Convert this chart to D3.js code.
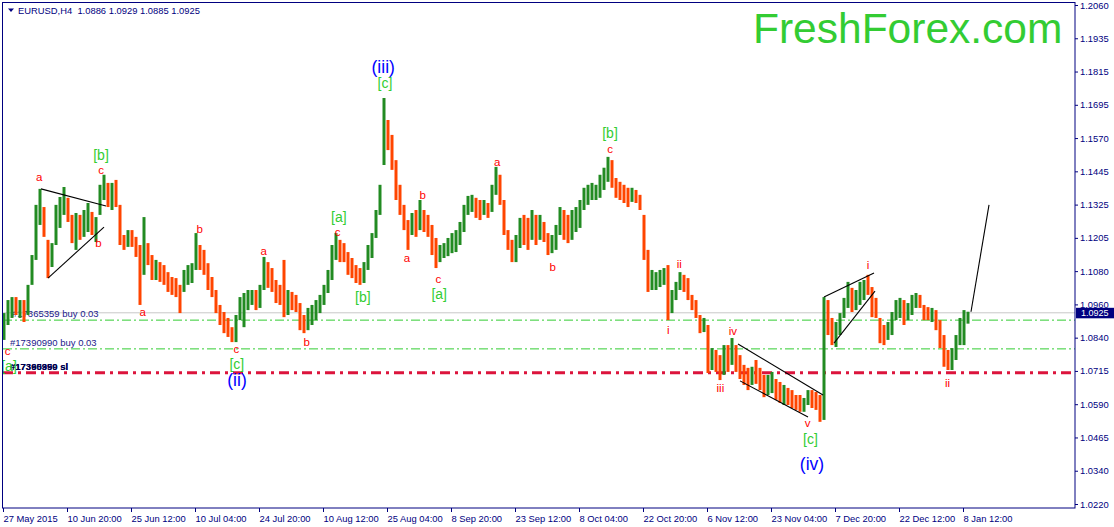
<!DOCTYPE html>
<html>
<head>
<meta charset="utf-8">
<script src="https://cdn.jsdelivr.net/npm/d3@7"></script>
<style>
  body { margin: 0; background: #fff; }
  text { font-family: "Liberation Sans", Arial, sans-serif; }
</style>
</head>
<body>
<div id="chart"></div>
<script>
// ---- data (EURUSD H4, one sample per ~4 bars) ----
const hi = [
  1.0924,1.0972,1.0983,1.0983,1.0972,1.0972,1.1028,1.1138,1.1323,1.1382,
  1.1315,1.1194,1.1182,1.1323,1.1352,1.1389,1.1349,1.1286,1.1293,1.1286,
  1.1304,1.1330,1.1297,1.1278,1.1397,1.1434,1.1404,1.1404,1.1415,1.1323,
  1.1212,1.1230,1.1230,1.1205,1.1175,1.1278,1.1182,1.1138,1.1120,1.1112,
  1.1101,1.1075,1.1057,1.1053,1.1028,1.1083,1.1101,1.1108,1.1219,1.1175,
  1.1157,1.1108,1.1057,1.1009,1.0954,1.0928,1.0906,1.0872,1.0917,1.0983,
  1.0998,1.1009,1.1009,1.1009,1.1028,1.1131,1.1112,1.1090,1.1046,1.1028,
  1.1120,1.1009,1.1002,1.0991,1.0961,1.0917,1.0943,1.0954,1.0972,1.0991,
  1.1028,1.1083,1.1175,1.1219,1.1194,1.1182,1.1149,1.1127,1.1101,1.1090,
  1.1112,1.1175,1.1219,1.1304,1.1397,1.1717,1.1636,1.1581,1.1488,1.1397,
  1.1323,1.1267,1.1293,1.1304,1.1341,1.1304,1.1286,1.1249,1.1201,1.1175,
  1.1182,1.1201,1.1219,1.1230,1.1260,1.1323,1.1356,1.1360,1.1349,1.1341,
  1.1341,1.1330,1.1397,1.1463,1.1434,1.1341,1.1230,1.1194,1.1212,1.1275,
  1.1286,1.1275,1.1304,1.1286,1.1286,1.1260,1.1219,1.1212,1.1249,1.1315,
  1.1304,1.1286,1.1304,1.1315,1.1341,1.1386,1.1397,1.1404,1.1397,1.1434,
  1.1460,1.1500,1.1488,1.1422,1.1408,1.1397,1.1386,1.1386,1.1378,1.1360,
  1.1286,1.1157,1.1083,1.1075,1.1083,1.1090,1.1101,1.1009,1.1039,1.1075,
  1.1065,1.1053,1.0991,1.0972,1.0917,1.0906,1.0880,1.0795,1.0788,1.0769,
  1.0806,1.0806,1.0832,1.0806,1.0769,1.0733,1.0722,1.0726,1.0751,1.0722,
  1.0696,1.0696,1.0707,1.0681,1.0670,1.0659,1.0648,1.0640,1.0622,1.0622,
  1.0611,1.0640,1.0640,1.0633,1.0622,1.0983,1.0972,1.0906,1.0891,1.0924,
  1.0980,1.1039,1.1017,1.1009,1.1039,1.1046,1.1065,1.1020,1.0980,1.0906,
  1.0880,1.0891,1.0928,1.0972,1.0980,1.0972,1.0961,1.0991,1.0998,1.0991,
  1.0954,1.0946,1.0943,1.0935,1.0898,1.0843,1.0788,1.0795,1.0843,1.0906,
  1.0935,1.0929
];
const lo = [
  1.0825,1.0880,1.0906,1.0917,1.0906,1.0891,1.0917,1.1028,1.1120,1.1249,
  1.1205,1.1053,1.1094,1.1175,1.1238,1.1286,1.1260,1.1182,1.1157,1.1194,
  1.1205,1.1223,1.1212,1.1186,1.1286,1.1341,1.1315,1.1304,1.1315,1.1175,
  1.1157,1.1168,1.1168,1.1131,1.0954,1.1065,1.1101,1.1046,1.1046,1.1039,
  1.1028,1.1002,1.0991,1.0983,1.0924,1.1002,1.1028,1.1035,1.1083,1.1083,
  1.1065,1.1009,1.0983,1.0924,1.0880,1.0850,1.0836,1.0817,1.0817,1.0898,
  1.0872,1.0935,1.0954,1.0935,1.0943,1.1009,1.1017,1.1002,1.0961,1.0954,
  1.0909,1.0917,1.0935,1.0928,1.0861,1.0850,1.0861,1.0880,1.0898,1.0924,
  1.0954,1.0998,1.1046,1.1120,1.1112,1.1112,1.1065,1.1053,1.1035,1.1028,
  1.1035,1.1083,1.1127,1.1201,1.1286,1.1470,1.1525,1.1452,1.1341,1.1286,
  1.1230,1.1157,1.1212,1.1205,1.1230,1.1223,1.1205,1.1138,1.1090,1.1112,
  1.1127,1.1134,1.1145,1.1149,1.1175,1.1223,1.1286,1.1297,1.1275,1.1267,
  1.1286,1.1275,1.1297,1.1360,1.1323,1.1212,1.1157,1.1112,1.1112,1.1164,
  1.1175,1.1157,1.1194,1.1175,1.1194,1.1186,1.1138,1.1145,1.1157,1.1212,
  1.1194,1.1182,1.1194,1.1223,1.1238,1.1304,1.1323,1.1341,1.1341,1.1349,
  1.1378,1.1408,1.1386,1.1349,1.1341,1.1330,1.1315,1.1334,1.1330,1.1304,
  1.1120,1.1002,1.1009,1.1009,1.1020,1.1028,1.0898,1.0924,1.0972,1.1009,
  1.1002,1.0972,1.0935,1.0906,1.0850,1.0854,1.0703,1.0714,1.0707,1.0677,
  1.0696,1.0707,1.0733,1.0707,1.0681,1.0659,1.0640,1.0659,1.0663,1.0640,
  1.0614,1.0622,1.0629,1.0604,1.0593,1.0585,1.0585,1.0574,1.0567,1.0560,
  1.0560,1.0585,1.0574,1.0567,1.0523,1.0530,1.0843,1.0806,1.0799,1.0843,
  1.0906,1.0943,1.0928,1.0935,1.0954,1.0972,1.0991,1.0909,1.0906,1.0813,
  1.0806,1.0825,1.0843,1.0898,1.0906,1.0880,1.0898,1.0917,1.0943,1.0943,
  1.0898,1.0898,1.0891,1.0861,1.0795,1.0726,1.0714,1.0714,1.0751,1.0806,
  1.0806,1.0885
];
const cl = [
  1.0861,1.0935,1.0954,1.0935,1.0943,1.0917,1.1009,1.1120,1.1286,1.1304,
  1.1230,1.1101,1.1164,1.1297,1.1323,1.1341,1.1286,1.1212,1.1249,1.1223,
  1.1260,1.1286,1.1238,1.1260,1.1378,1.1397,1.1341,1.1360,1.1341,1.1194,
  1.1175,1.1201,1.1194,1.1157,1.1009,1.1157,1.1127,1.1083,1.1090,1.1065,
  1.1053,1.1028,1.1017,1.1002,1.0991,1.1053,1.1065,1.1083,1.1175,1.1120,
  1.1090,1.1046,1.1009,1.0954,1.0906,1.0880,1.0854,1.0843,1.0880,1.0954,
  1.0972,1.0980,1.0991,1.0972,1.1009,1.1083,1.1065,1.1039,1.1009,1.0991,
  1.0972,1.0972,1.0965,1.0954,1.0898,1.0880,1.0917,1.0928,1.0954,1.0972,
  1.1009,1.1046,1.1138,1.1175,1.1157,1.1138,1.1112,1.1083,1.1065,1.1053,
  1.1083,1.1157,1.1194,1.1267,1.1378,1.1599,1.1562,1.1488,1.1397,1.1323,
  1.1260,1.1230,1.1267,1.1249,1.1304,1.1260,1.1238,1.1175,1.1138,1.1149,
  1.1157,1.1175,1.1194,1.1194,1.1230,1.1304,1.1323,1.1330,1.1304,1.1297,
  1.1323,1.1304,1.1360,1.1434,1.1360,1.1238,1.1194,1.1138,1.1175,1.1230,
  1.1223,1.1201,1.1249,1.1212,1.1249,1.1223,1.1175,1.1182,1.1212,1.1286,
  1.1249,1.1230,1.1267,1.1286,1.1304,1.1360,1.1371,1.1378,1.1378,1.1408,
  1.1434,1.1470,1.1415,1.1378,1.1371,1.1360,1.1341,1.1360,1.1349,1.1323,
  1.1138,1.1046,1.1046,1.1046,1.1057,1.1075,1.0935,1.0991,1.1017,1.1053,
  1.1039,1.0991,1.0965,1.0928,1.0880,1.0887,1.0733,1.0769,1.0726,1.0714,
  1.0769,1.0751,1.0806,1.0751,1.0714,1.0681,1.0677,1.0714,1.0696,1.0670,
  1.0648,1.0659,1.0677,1.0640,1.0622,1.0622,1.0611,1.0604,1.0596,1.0585,
  1.0589,1.0622,1.0604,1.0596,1.0549,1.0954,1.0906,1.0843,1.0861,1.0891,
  1.0954,1.1002,1.0972,1.0980,1.1009,1.1028,1.1017,1.0972,1.0943,1.0861,
  1.0843,1.0861,1.0898,1.0943,1.0954,1.0928,1.0935,1.0972,1.0980,1.0972,
  1.0935,1.0928,1.0928,1.0906,1.0843,1.0788,1.0751,1.0769,1.0825,1.0880,
  1.0906,1.0925
];

const dateTicks = [0,16,32,48,64,80,96,112,128,144,160,176,192,208,224,240];
const dateLabels = ["27 May 2015","10 Jun 20:00","25 Jun 12:00","10 Jul 04:00","24 Jul 20:00",
  "10 Aug 12:00","25 Aug 04:00","8 Sep 20:00","23 Sep 12:00","8 Oct 04:00","22 Oct 20:00",
  "6 Nov 12:00","23 Nov 04:00","7 Dec 20:00","22 Dec 12:00","8 Jan 12:00"];
const priceLabels = ["1.2060","1.1935","1.1815","1.1695","1.1570","1.1445","1.1325","1.1205",
  "1.1080","1.0960","1.0840","1.0715","1.0590","1.0465","1.0340","1.0220"];

const bid = 1.0925;
const buyLevels = [1.0898, 1.0792];
const buyTexts = ["#17365359 buy 0.03", "#17390990 buy 0.03"];
const slLevel = 1.0704;
const slTexts = ["#17365359 sl", "#17390990 sl"];

// wave marks: [sample index, price, text]
const minorWaves = [
  [0.9,1.0785,"c"],[8.8,1.1426,"a"],[24.25,1.1452,"c"],[23.6,1.1181,"b"],[34.7,1.0927,"a"],
  [48.9,1.1234,"b"],[58.1,1.0792,"c"],[64.9,1.1153,"a"],[75.7,1.0816,"b"],[83.4,1.1224,"c"],
  [100.75,1.1126,"a"],[104.7,1.1360,"b"],[108.6,1.1050,"c"],[123.3,1.1480,"a"],[137.2,1.1095,"b"],
  [151.5,1.1529,"c"],[166.1,1.0862,"i"],[168.8,1.1105,"ii"],[179.1,1.0647,"iii"],[182.2,1.0859,"iv"],
  [200.9,1.0518,"v"],[216,1.1101,"i"],[235.9,1.0665,"ii"]
];
const minuteWaves = [
  [1.25,1.0729,"[a]"],[24.25,1.1506,"[b]"],[58.2,1.0738,"[c]"],[83.7,1.1279,"[a]"],[89.7,1.0985,"[b]"],
  [95.25,1.1771,"[c]"],[108.8,1.0993,"[a]"],[151.5,1.1587,"[b]"],[201.6,1.0459,"[c]"]
];
const minorDegree = [[58.25,1.0676,"(ii)"],[94.8,1.1830,"(iii)"],[202,1.0366,"(iv)"]];

// trend lines: [[i1,p1],[i2,p2]]
const trendLines = [
  [[9.25,1.1382],[25.5,1.1319]], [[11,1.1053],[25,1.1241]],
  [[183.5,1.0810],[204.75,1.0622]], [[184,1.0674],[201,1.0541]],
  [[205,1.0983],[217.5,1.1072]], [[207.5,1.0813],[217.75,1.1005]],
  [[241.75,1.0929],[246.25,1.1323]]
];

// ---- layout ----
const W = 1114, H = 527;
const L = 3, R = 1075, T = 3, B = 508;
const NAVY = "#000080";

const svg = d3.select("#chart").append("svg")
  .attr("width", W).attr("height", H)
  .style("display", "block");
svg.append("rect").attr("width", W).attr("height", H).attr("fill", "#fff");

const x = d3.scaleLinear().domain([0, 268]).range([L, R]);
const y = d3.scaleLinear().domain([1.0220, 1.2060]).range([504, 5]);

svg.append("clipPath").attr("id", "plot")
  .append("rect").attr("x", L).attr("y", T).attr("width", R - L).attr("height", B - T);
const plot = svg.append("g").attr("clip-path", "url(#plot)");

// bid line
plot.append("line")
  .attr("x1", L).attr("x2", R).attr("y1", y(bid)).attr("y2", y(bid))
  .attr("stroke", "#c8c8c8").attr("stroke-width", 1);

// order levels
plot.selectAll(".buy").data(buyLevels).join("line")
  .attr("class", "buy")
  .attr("x1", L).attr("x2", R).attr("y1", d => y(d)).attr("y2", d => y(d))
  .attr("stroke", "#32cd32").attr("stroke-width", 1)
  .attr("stroke-dasharray", "9,3,2,3");
plot.append("line")
  .attr("x1", L).attr("x2", R).attr("y1", y(slLevel)).attr("y2", y(slLevel))
  .attr("stroke", "#dc143c").attr("stroke-width", 3)
  .attr("stroke-dasharray", "10,5,3,5");

plot.selectAll(".buytxt").data(buyLevels).join("text")
  .attr("class", "buytxt")
  .attr("x", (d, i) => L + (i ? 7 : 9)).attr("y", d => y(d) - 3)
  .attr("font-size", "9.5px").attr("fill", "#1a1a8c")
  .text((d, i) => buyTexts[i]);
plot.selectAll(".sltxt").data(slTexts).join("text")
  .attr("class", "sltxt")
  .attr("x", L + 7).attr("y", y(slLevel) - 3)
  .attr("font-size", "9.5px").attr("font-weight", "bold").attr("fill", "#000050")
  .text(d => d);

// price bars
const bars = hi.map((h, i) => ({
  i, h, l: lo[i], c: cl[i], o: i ? cl[i - 1] : cl[i]
}));
plot.selectAll(".bar").data(bars).join("line")
  .attr("class", "bar")
  .attr("x1", d => x(d.i + 0.25)).attr("x2", d => x(d.i + 0.25))
  .attr("y1", d => y(d.h)).attr("y2", d => y(d.l))
  .attr("stroke", d => d.c >= d.o ? "#228b22" : "#ff4500")
  .attr("stroke-width", 3);

// trend lines
plot.selectAll(".trend").data(trendLines).join("line")
  .attr("class", "trend")
  .attr("x1", d => x(d[0][0] + 0.25)).attr("y1", d => y(d[0][1]))
  .attr("x2", d => x(d[1][0] + 0.25)).attr("y2", d => y(d[1][1]))
  .attr("stroke", "#000").attr("stroke-width", 1.1);

// wave labels
function waveText(data, size, color) {
  plot.append("g").selectAll("text").data(data).join("text")
    .attr("x", d => x(d[0] + 0.25)).attr("y", d => y(d[1]))
    .attr("text-anchor", "middle").attr("dominant-baseline", "central")
    .attr("font-size", size).attr("fill", color)
    .text(d => d[2]);
}
waveText(minorWaves, "11.5px", "#ff0000");
waveText(minuteWaves, "14px", "#32cd32");
waveText(minorDegree, "17.5px", "#0000ff");

// watermark
svg.append("text")
  .attr("x", 753).attr("y", 43)
  .attr("font-size", "42.5px").attr("fill", "#33cc33")
  .text("FreshForex.com");

// title
svg.append("path").attr("d", "M8,8.5L14,8.5L11,12Z").attr("fill", NAVY);
svg.append("text")
  .attr("x", 18).attr("y", 14)
  .attr("font-size", "9.4px").attr("fill", NAVY)
  .style("white-space", "pre")
  .text("EURUSD,H4  1.0886 1.0929 1.0885 1.0925");

// axes
const yTicks = d3.range(16).map(i => 1.2060 - i * (0.184 / 15));
const yAxis = d3.axisRight(y)
  .tickValues(yTicks)
  .tickSize(3).tickPadding(2)
  .tickFormat((d, i) => priceLabels[i]);
const gy = svg.append("g").attr("transform", `translate(${R},0)`).call(yAxis);

const xAxis = d3.axisBottom(x)
  .tickValues(dateTicks)
  .tickSize(4).tickPadding(3)
  .tickFormat((d, i) => dateLabels[i]);
const gx = svg.append("g").attr("transform", `translate(0,${B})`).call(xAxis);

[gx, gy].forEach(g => {
  g.select(".domain").remove();
  g.selectAll("line").attr("stroke", NAVY);
  g.selectAll("text").attr("fill", NAVY).attr("font-size", "9.4px")
    .attr("font-family", "'Liberation Sans', Arial, sans-serif");
});
gx.selectAll("text").attr("text-anchor", "start").attr("x", 0);

// frame
svg.append("rect")
  .attr("x", 2.5).attr("y", 2.5).attr("width", R - 2.5).attr("height", B - 2.5)
  .attr("fill", "none").attr("stroke", NAVY).attr("stroke-width", 1);

// bid tag on the price axis
svg.append("rect")
  .attr("x", R + 1).attr("y", y(bid) - 5).attr("width", 38).attr("height", 10.5)
  .attr("fill", NAVY);
svg.append("text")
  .attr("x", R + 6).attr("y", y(bid) + 0.5).attr("dominant-baseline", "central")
  .attr("font-size", "9px").attr("fill", "#fff")
  .text(bid.toFixed(4));
</script>
</body>
</html>
